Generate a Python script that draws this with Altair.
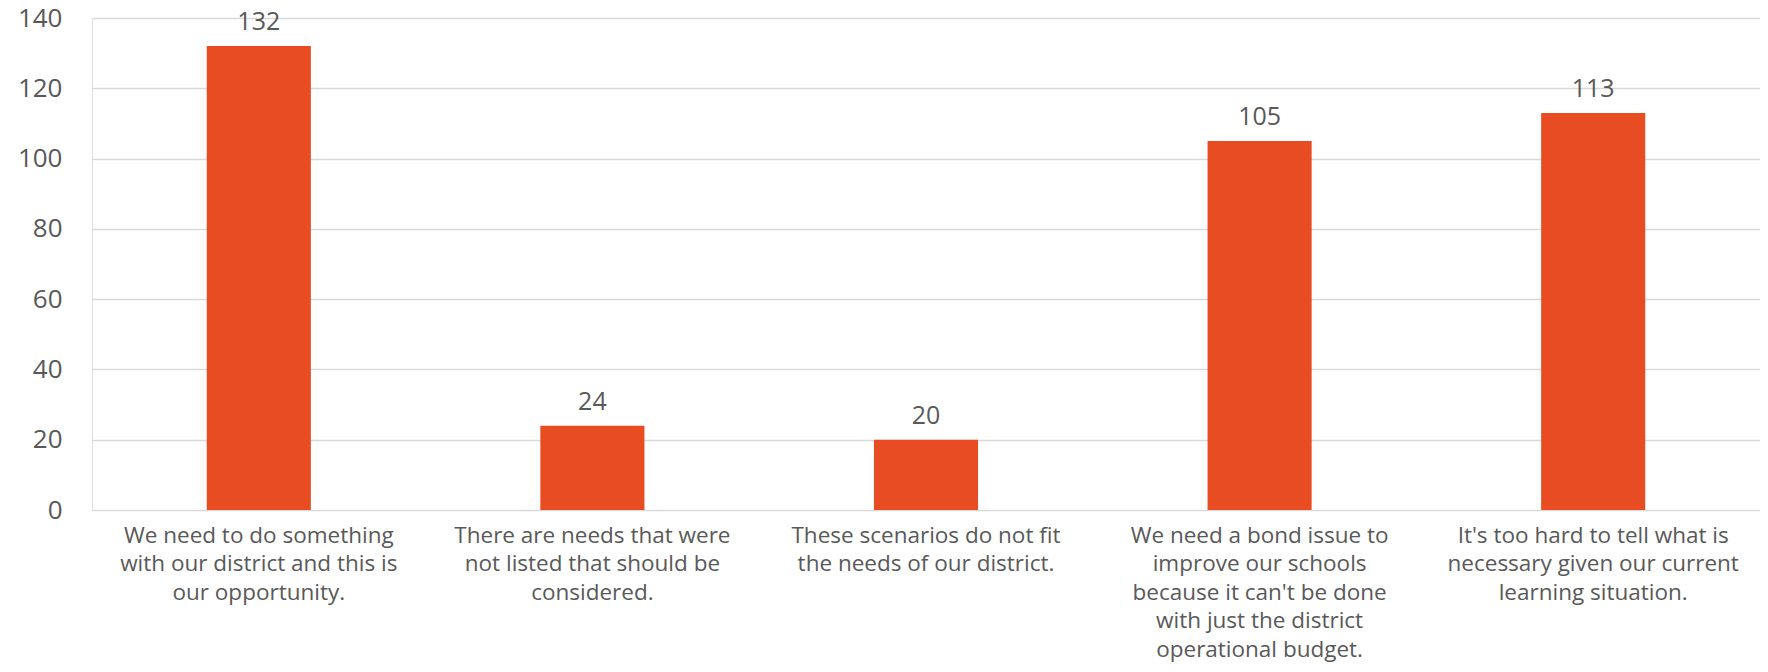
import altair as alt
import pandas as pd

categories = [
    "We need to do something|with our district and this is|our opportunity.",
    "There are needs that were|not listed that should be|considered.",
    "These scenarios do not fit|the needs of our district.",
    "We need a bond issue to|improve our schools|because it can't be done|with just the district|operational budget.",
    "It's too hard to tell what is|necessary given our current|learning situation.",
]
values = [132, 24, 20, 105, 113]
y_ticks = [0, 20, 40, 60, 80, 100, 120, 140]

df = pd.DataFrame({"cat": categories, "val": values})

FONT = "Open Sans"
GREY = "#595959"
BAR = "#E84C22"

x_enc = alt.X(
    "cat:N",
    sort=categories,
    scale=alt.Scale(paddingInner=0.688, paddingOuter=0.344),
    axis=alt.Axis(
        title=None,
        labelAngle=0,
        labelExpr="split(datum.label, '|')",
        labelFont=FONT,
        labelFontSize=22.5,
        labelColor=GREY,
        labelLineHeight=28.5,
        labelPadding=14,
        labelLimit=400,
        ticks=False,
        domain=False,
        labelBaseline="top",
    ),
)
y_enc = alt.Y(
    "val:Q",
    scale=alt.Scale(domain=[0, 140], nice=False),
    axis=alt.Axis(
        title=None,
        values=y_ticks,
        labelFont=FONT,
        labelFontSize=26,
        labelColor=GREY,
        labelPadding=30,
        ticks=False,
        domain=False,
        gridColor="#d9d9d9",
        gridWidth=1.5,
    ),
)

bars = alt.Chart(df).mark_bar(color=BAR).encode(x=x_enc, y=y_enc)
labels = alt.Chart(df).mark_text(
    font=FONT, fontSize=25, color=GREY, baseline="alphabetic", dy=-16
).encode(x=alt.X("cat:N", sort=categories), y="val:Q", text="val:Q")

chart = (
    alt.layer(bars, labels)
    .properties(
        width=1668,
        height=492,
        autosize=alt.AutoSizeParams(type="none"),
        padding={"left": 84, "top": 10, "right": 0, "bottom": 154},
    )
    .configure_view(stroke=None)
    .configure(background="white")
)

chart.save("out.html", embed_options={"renderer": "svg", "actions": False})
